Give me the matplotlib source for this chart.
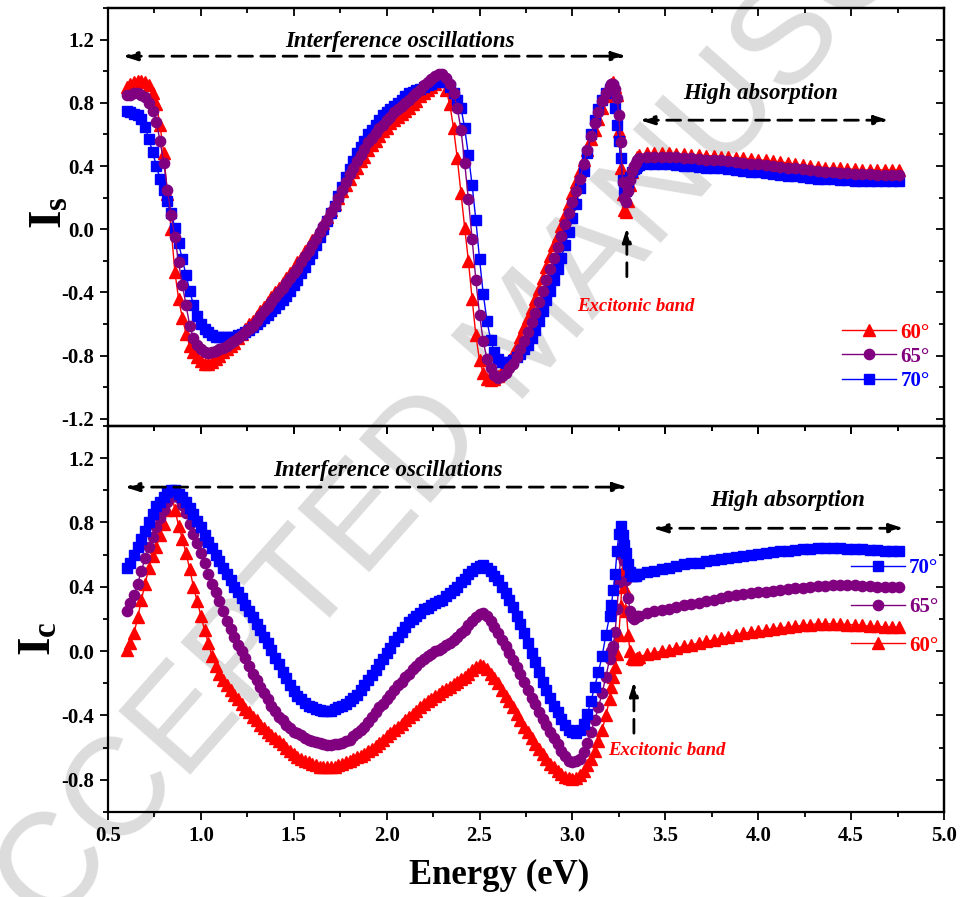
import numpy as np
import matplotlib
matplotlib.use('Agg')
import matplotlib.pyplot as plt
from matplotlib.ticker import MultipleLocator, FormatStrFormatter

# Fonts: bold Times-like everywhere
plt.rcParams['font.family'] = 'Liberation Serif'
plt.rcParams['font.weight'] = 'bold'
plt.rcParams['axes.labelweight'] = 'bold'
plt.rcParams['mathtext.fontset'] = 'custom'
plt.rcParams['mathtext.rm'] = 'Liberation Serif:bold'
plt.rcParams['mathtext.bf'] = 'Liberation Serif:bold'
plt.rcParams['mathtext.it'] = 'Liberation Serif:bold:italic'

# Energy grid (eV): 0.02 steps, finer around the excitonic band, coarser in the flat tail
energy = np.concatenate([np.linspace(0.60, 3.18, 130),
                         np.linspace(3.20, 3.35, 16),
                         np.linspace(3.36, 4.76, 36)])

angles = ['60°', '65°', '70°']

# ---- Is (top panel) ----
is_60 = [0.90, 0.92, 0.93, 0.94, 0.94, 0.93, 0.91, 0.86, 0.79, 0.66,
         0.48, 0.22, 0.00, -0.27, -0.44, -0.56, -0.66, -0.74, -0.78, -0.81,
         -0.835, -0.85, -0.85, -0.84, -0.82, -0.80, -0.78, -0.76, -0.74, -0.72,
         -0.69, -0.66, -0.63, -0.60, -0.58, -0.55, -0.52, -0.49, -0.46, -0.43,
         -0.40, -0.37, -0.34, -0.31, -0.28, -0.25, -0.21, -0.18, -0.14, -0.11,
         -0.07, -0.04, 0.00, 0.04, 0.08, 0.12, 0.16, 0.20, 0.24, 0.28,
         0.32, 0.36, 0.39, 0.43, 0.46, 0.50, 0.53, 0.56, 0.59, 0.62,
         0.64, 0.67, 0.69, 0.71, 0.73, 0.75, 0.77, 0.79, 0.81, 0.84,
         0.86, 0.88, 0.90, 0.92, 0.94, 0.94, 0.88, 0.79, 0.64, 0.45,
         0.23, 0.01, -0.20, -0.44, -0.67, -0.83, -0.91, -0.945, -0.955, -0.945,
         -0.93, -0.90, -0.86, -0.83, -0.79, -0.74, -0.68, -0.62, -0.56, -0.50,
         -0.44, -0.38, -0.31, -0.24, -0.17, -0.10, -0.04, 0.02, 0.09, 0.16,
         0.23, 0.30, 0.37, 0.44, 0.50, 0.57, 0.63, 0.70, 0.77, 0.84,
         0.89, 0.92, 0.93, 0.90, 0.85, 0.62, 0.39, 0.22, 0.12, 0.11, 0.18, 0.28, 0.36, 0.41, 0.44, 0.46,
         0.47, 0.48, 0.48, 0.48, 0.48, 0.475, 0.475, 0.47, 0.47,
         0.465, 0.465, 0.46, 0.455, 0.45, 0.45, 0.445, 0.44, 0.435,
         0.43, 0.425, 0.42, 0.41, 0.405, 0.40, 0.395, 0.39, 0.385,
         0.385, 0.38, 0.38, 0.375, 0.375, 0.375, 0.375, 0.375, 0.375]

is_65 = [0.85, 0.85, 0.86, 0.86, 0.85, 0.835, 0.80, 0.75, 0.68, 0.56,
         0.42, 0.25, 0.09, -0.05, -0.21, -0.35, -0.48, -0.61, -0.69, -0.73,
         -0.76, -0.78, -0.785, -0.78, -0.77, -0.76, -0.75, -0.74, -0.72, -0.71,
         -0.69, -0.67, -0.65, -0.63, -0.61, -0.58, -0.55, -0.52, -0.49, -0.46,
         -0.43, -0.40, -0.37, -0.34, -0.31, -0.28, -0.25, -0.21, -0.17, -0.14,
         -0.10, -0.06, -0.02, 0.02, 0.06, 0.11, 0.15, 0.20, 0.25, 0.30,
         0.35, 0.39, 0.43, 0.47, 0.51, 0.55, 0.58, 0.61, 0.64, 0.66,
         0.69, 0.71, 0.74, 0.76, 0.78, 0.80, 0.82, 0.84, 0.86, 0.88,
         0.91, 0.93, 0.95, 0.97, 0.98, 0.98, 0.96, 0.92, 0.86, 0.77,
         0.63, 0.42, 0.19, -0.06, -0.32, -0.54, -0.71, -0.82, -0.88, -0.92,
         -0.94, -0.93, -0.91, -0.88, -0.85, -0.81, -0.76, -0.71, -0.65, -0.59,
         -0.53, -0.46, -0.39, -0.32, -0.25, -0.18, -0.11, -0.04, 0.03, 0.10,
         0.17, 0.24, 0.32, 0.41, 0.50, 0.59, 0.67, 0.74, 0.81, 0.86,
         0.90, 0.92, 0.92, 0.89, 0.83, 0.72, 0.55, 0.30, 0.20, 0.17, 0.24, 0.31, 0.37, 0.40, 0.42, 0.44,
         0.45, 0.46, 0.46, 0.46, 0.455, 0.455, 0.45, 0.45, 0.445,
         0.44, 0.44, 0.435, 0.43, 0.425, 0.42, 0.415, 0.41, 0.405,
         0.40, 0.395, 0.39, 0.385, 0.38, 0.375, 0.37, 0.365, 0.36,
         0.355, 0.355, 0.35, 0.35, 0.35, 0.345, 0.345, 0.345, 0.345]

is_70 = [0.75, 0.74, 0.73, 0.72, 0.70, 0.65, 0.57, 0.49, 0.40, 0.32,
         0.25, 0.18, 0.10, 0.01, -0.09, -0.19, -0.29, -0.39, -0.48, -0.55,
         -0.60, -0.63, -0.65, -0.67, -0.68, -0.68, -0.68, -0.68, -0.68, -0.68,
         -0.67, -0.66, -0.65, -0.64, -0.62, -0.60, -0.58, -0.56, -0.54, -0.52,
         -0.50, -0.47, -0.45, -0.42, -0.39, -0.35, -0.32, -0.28, -0.24, -0.19,
         -0.15, -0.10, -0.05, 0.00, 0.05, 0.10, 0.15, 0.21, 0.27, 0.33,
         0.38, 0.43, 0.48, 0.52, 0.56, 0.60, 0.63, 0.66, 0.69, 0.72,
         0.74, 0.76, 0.78, 0.80, 0.82, 0.84, 0.86, 0.87, 0.88, 0.89,
         0.90, 0.91, 0.92, 0.93, 0.94, 0.95, 0.93, 0.90, 0.86, 0.82,
         0.77, 0.64, 0.47, 0.28, 0.06, -0.19, -0.41, -0.58, -0.70, -0.78,
         -0.82, -0.84, -0.845, -0.84, -0.83, -0.81, -0.79, -0.76, -0.73, -0.69,
         -0.64, -0.58, -0.52, -0.45, -0.39, -0.32, -0.25, -0.18, -0.10, -0.02,
         0.07, 0.16, 0.26, 0.37, 0.48, 0.60, 0.69, 0.76, 0.82, 0.86,
         0.89, 0.90, 0.90, 0.77, 0.66, 0.56, 0.45, 0.31, 0.25, 0.24, 0.28, 0.33, 0.36, 0.38, 0.39, 0.40,
         0.405, 0.415, 0.415, 0.41, 0.41, 0.405, 0.40, 0.40, 0.395,
         0.39, 0.39, 0.385, 0.38, 0.375, 0.37, 0.365, 0.36, 0.355,
         0.35, 0.345, 0.34, 0.335, 0.33, 0.325, 0.32, 0.315, 0.315,
         0.31, 0.31, 0.305, 0.305, 0.305, 0.305, 0.305, 0.305, 0.305]

# ---- Ic (bottom panel) ----
ic_60 = [0.01, 0.05, 0.11, 0.21, 0.32, 0.42, 0.52, 0.59, 0.65, 0.72,
         0.79, 0.88, 0.99, 0.88, 0.78, 0.70, 0.61, 0.51, 0.40, 0.31,
         0.22, 0.13, 0.05, -0.03, -0.09, -0.14, -0.18, -0.21, -0.24, -0.27,
         -0.30, -0.33, -0.36, -0.38, -0.41, -0.43, -0.46, -0.48, -0.50, -0.52,
         -0.54, -0.56, -0.58, -0.60, -0.62, -0.64, -0.66, -0.67, -0.68, -0.69,
         -0.70, -0.71, -0.72, -0.72, -0.72, -0.72, -0.72, -0.71, -0.70, -0.69,
         -0.68, -0.67, -0.66, -0.65, -0.64, -0.62, -0.61, -0.59, -0.57, -0.55,
         -0.53, -0.51, -0.49, -0.47, -0.45, -0.43, -0.41, -0.39, -0.37, -0.35,
         -0.33, -0.31, -0.30, -0.28, -0.265, -0.25, -0.235, -0.22, -0.205, -0.19,
         -0.175, -0.16, -0.14, -0.12, -0.10, -0.085, -0.09, -0.11, -0.14, -0.17,
         -0.20, -0.24, -0.28, -0.31, -0.35, -0.39, -0.43, -0.47, -0.50, -0.54,
         -0.58, -0.61, -0.64, -0.67, -0.70, -0.72, -0.745, -0.765, -0.78, -0.79,
         -0.795, -0.79, -0.77, -0.745, -0.71, -0.67, -0.62, -0.56, -0.49, -0.40,
         -0.30, -0.22, -0.16, -0.10, -0.02, 0.10, 0.28, 0.50, 0.40, 0.25, 0.10, 0.00, -0.04, -0.05, -0.05, -0.04,
         -0.035, -0.02, -0.01, 0.00, 0.01, 0.02, 0.03, 0.04, 0.05,
         0.06, 0.07, 0.08, 0.09, 0.10, 0.11, 0.12, 0.125, 0.13,
         0.14, 0.145, 0.15, 0.155, 0.16, 0.165, 0.17, 0.17, 0.17,
         0.17, 0.165, 0.165, 0.16, 0.155, 0.155, 0.15, 0.15, 0.15]

ic_65 = [0.25, 0.30, 0.35, 0.42, 0.50, 0.58, 0.65, 0.71, 0.77, 0.83,
         0.88, 0.93, 0.96, 0.97, 0.95, 0.91, 0.86, 0.79, 0.73, 0.67,
         0.61, 0.55, 0.48, 0.42, 0.37, 0.31, 0.25, 0.19, 0.14, 0.09,
         0.04, 0.00, -0.04, -0.09, -0.14, -0.18, -0.22, -0.26, -0.30, -0.34,
         -0.37, -0.41, -0.43, -0.46, -0.48, -0.50, -0.51, -0.52, -0.54, -0.55,
         -0.56, -0.565, -0.57, -0.58, -0.585, -0.585, -0.58, -0.575, -0.57, -0.56,
         -0.55, -0.53, -0.51, -0.49, -0.47, -0.44, -0.41, -0.38, -0.35, -0.33,
         -0.30, -0.27, -0.24, -0.21, -0.19, -0.16, -0.14, -0.11, -0.09, -0.07,
         -0.05, -0.03, -0.02, 0.00, 0.01, 0.02, 0.04, 0.05, 0.07, 0.09,
         0.11, 0.13, 0.16, 0.19, 0.21, 0.23, 0.235, 0.22, 0.19, 0.15,
         0.11, 0.07, 0.03, -0.01, -0.055, -0.10, -0.14, -0.19, -0.24, -0.29,
         -0.33, -0.38, -0.42, -0.46, -0.50, -0.54, -0.58, -0.62, -0.65, -0.68,
         -0.69, -0.685, -0.67, -0.63, -0.57, -0.50, -0.43, -0.35, -0.26, -0.16,
         -0.05, 0.00, 0.03, 0.12, 0.26, 0.43, 0.60, 0.66, 0.56, 0.44, 0.33, 0.25, 0.21, 0.20, 0.21, 0.22,
         0.22, 0.24, 0.25, 0.255, 0.265, 0.275, 0.285, 0.295, 0.30,
         0.31, 0.32, 0.33, 0.34, 0.35, 0.355, 0.36, 0.365, 0.37,
         0.375, 0.38, 0.385, 0.39, 0.395, 0.40, 0.405, 0.405, 0.41,
         0.41, 0.41, 0.41, 0.405, 0.405, 0.40, 0.40, 0.40, 0.40]

ic_70 = [0.52, 0.55, 0.60, 0.65, 0.70, 0.75, 0.80, 0.85, 0.90, 0.93,
         0.96, 0.99, 1.00, 1.00, 0.98, 0.96, 0.93, 0.89, 0.85, 0.81,
         0.77, 0.72, 0.68, 0.64, 0.60, 0.56, 0.52, 0.48, 0.44, 0.40,
         0.37, 0.33, 0.29, 0.25, 0.21, 0.17, 0.13, 0.09, 0.05, 0.01,
         -0.04, -0.08, -0.13, -0.17, -0.21, -0.25, -0.28, -0.30, -0.32, -0.34,
         -0.35, -0.36, -0.365, -0.37, -0.37, -0.37, -0.36, -0.35, -0.34, -0.33,
         -0.31, -0.29, -0.27, -0.24, -0.21, -0.18, -0.15, -0.12, -0.08, -0.05,
         -0.01, 0.02, 0.06, 0.09, 0.12, 0.15, 0.18, 0.20, 0.22, 0.24,
         0.26, 0.27, 0.29, 0.30, 0.31, 0.32, 0.34, 0.36, 0.38, 0.40,
         0.43, 0.45, 0.48, 0.50, 0.52, 0.53, 0.535, 0.52, 0.50, 0.47,
         0.44, 0.40, 0.36, 0.32, 0.275, 0.22, 0.17, 0.11, 0.05, -0.01,
         -0.07, -0.13, -0.19, -0.24, -0.29, -0.34, -0.38, -0.42, -0.46, -0.49,
         -0.505, -0.51, -0.49, -0.45, -0.39, -0.31, -0.22, -0.13, -0.03, 0.10,
         0.22, 0.29, 0.38, 0.48, 0.62, 0.73, 0.78, 0.72, 0.66, 0.61, 0.54, 0.49, 0.47, 0.47, 0.47, 0.48,
         0.48, 0.49, 0.50, 0.51, 0.52, 0.53, 0.54, 0.545, 0.55,
         0.56, 0.565, 0.57, 0.58, 0.585, 0.59, 0.60, 0.605, 0.61,
         0.615, 0.62, 0.625, 0.63, 0.635, 0.638, 0.64, 0.64, 0.64,
         0.64, 0.638, 0.635, 0.632, 0.63, 0.628, 0.625, 0.623, 0.62]

colors = ['#ff0000', '#800080', '#0000ff']
markers = ['^', 'o', 's']
msizes = [8.0, 7.4, 6.6]

fig = plt.figure(figsize=(9.6, 8.97), dpi=100)
ax1 = fig.add_axes([0.1125, 0.5251, 0.8708, 0.466])
ax2 = fig.add_axes([0.1125, 0.0948, 0.8708, 0.4303])
for ax in (ax1, ax2):
    ax.set_facecolor('none')

# watermark behind everything
fig.text(0.552, 0.624, 'ACCEPTED MANUSCRIPT', rotation=48.5, fontsize=100,
         family='Liberation Sans', weight='normal', color='#dcdcdc',
         ha='center', va='center', rotation_mode='anchor', zorder=-5)


def draw_series(ax, ys, order):
    lines = {}
    for i in order:
        ln, = ax.plot(energy, ys[i], color=colors[i], marker=markers[i],
                      ms=msizes[i], mec=colors[i], mfc=colors[i], lw=1.0)
        lines[i] = ln
    return [lines[i] for i in range(3)]


top_lines = draw_series(ax1, [is_60, is_65, is_70], [0, 2, 1])
bot_lines = draw_series(ax2, [ic_60, ic_65, ic_70], [0, 1, 2])


def style(ax, ylim, ymin_tick, ymax_tick, show_x):
    ax.set_xlim(0.5, 5.0)
    ax.set_ylim(*ylim)
    ax.set_yticks(np.arange(ymin_tick, ymax_tick + 0.01, 0.4))
    ax.yaxis.set_minor_locator(MultipleLocator(0.2))
    ax.xaxis.set_major_locator(MultipleLocator(0.5))
    ax.xaxis.set_minor_locator(MultipleLocator(0.25))
    ax.yaxis.set_major_formatter(FormatStrFormatter('%.1f'))
    ax.xaxis.set_major_formatter(FormatStrFormatter('%.1f'))
    ax.tick_params(which='both', direction='out', width=1.3, labelsize=15,
                   top=False, right=False, labelbottom=show_x)
    ax.tick_params(which='major', length=6, pad=4)
    ax.tick_params(which='minor', length=3.5)
    for sp in ax.spines.values():
        sp.set_linewidth(1.6)
    # inward ticks on top and right
    sx = ax.secondary_xaxis('top')
    sx.xaxis.set_major_locator(MultipleLocator(0.5))
    sx.xaxis.set_minor_locator(MultipleLocator(0.25))
    sx.tick_params(which='both', direction='in', width=1.3, labeltop=False)
    sx.tick_params(which='major', length=6)
    sx.tick_params(which='minor', length=3.5)
    sy = ax.secondary_yaxis('right')
    sy.yaxis.set_major_locator(MultipleLocator(0.4))
    sy.yaxis.set_minor_locator(MultipleLocator(0.2))
    sy.tick_params(which='both', direction='in', width=1.3, labelright=False)
    sy.tick_params(which='major', length=6)
    sy.tick_params(which='minor', length=3.5)
    for s in (sx, sy):
        for sp in s.spines.values():
            sp.set_linewidth(1.6)


style(ax1, (-1.245, 1.4), -1.2, 1.2, False)
style(ax2, (-1.0, 1.4), -0.8, 1.2, True)

ax1.set_ylabel(r'$\mathrm{I_s}$', fontsize=34)
ax1.yaxis.set_label_coords(-0.043, 0.51)
ax2.set_ylabel(r'$\mathrm{I_c}$', fontsize=34)
ax2.yaxis.set_label_coords(-0.057, 0.45)
ax2.set_xlabel('Energy (eV)', fontsize=25, weight='bold')
ax2.xaxis.set_label_coords(0.468, -0.122)


def hline_arrow(ax, x0, x1, y):
    ax.annotate('', xy=(x1, y), xytext=(x0, y),
                arrowprops=dict(arrowstyle='<|-|>,head_length=0.7,head_width=0.22',
                                linestyle=(0, (5, 3)), lw=2, color='black',
                                shrinkA=0, shrinkB=0, mutation_scale=12))


def vline_arrow(ax, x, y0, y1):
    ax.annotate('', xy=(x, y1), xytext=(x, y0),
                arrowprops=dict(arrowstyle='-|>,head_length=0.7,head_width=0.22',
                                linestyle=(0, (5, 3)), lw=2, color='black',
                                shrinkA=0, shrinkB=0, mutation_scale=12))


txt = dict(style='italic', weight='bold', ha='center', va='center')

# top panel notes
hline_arrow(ax1, 0.58, 3.29, 1.095)
ax1.text(2.07, 1.19, 'Interference oscillations', fontsize=16.5, **txt)
hline_arrow(ax1, 3.363, 4.703, 0.69)
ax1.text(4.015, 0.86, 'High absorption', fontsize=16.5, **txt)
vline_arrow(ax1, 3.293, -0.30, 0.01)
ax1.text(3.34, -0.49, 'Excitonic band', fontsize=13.5, color='#ff0000', **txt)

# bottom panel notes
hline_arrow(ax2, 0.59, 3.297, 1.02)
ax2.text(2.007, 1.124, 'Interference oscillations', fontsize=16.5, **txt)
hline_arrow(ax2, 3.433, 4.784, 0.764)
ax2.text(4.157, 0.938, 'High absorption', fontsize=16.5, **txt)
vline_arrow(ax2, 3.331, -0.51, -0.19)
ax2.text(3.51, -0.62, 'Excitonic band', fontsize=13.5, color='#ff0000', **txt)

# legends
leg1 = ax1.legend(top_lines, angles, loc='lower right', bbox_to_anchor=(0.983, 0.084),
                  frameon=False, fontsize=15, handlelength=2.6, handletextpad=0.2,
                  labelspacing=0.2, borderpad=0, borderaxespad=0)
for t, c in zip(leg1.get_texts(), colors):
    t.set_color(c)

leg2 = ax2.legend(bot_lines[::-1], angles[::-1], loc='lower right', bbox_to_anchor=(0.993, 0.405),
                  frameon=False, fontsize=15, handlelength=2.6, handletextpad=0.2,
                  labelspacing=0.9, borderpad=0, borderaxespad=0)
for t, c in zip(leg2.get_texts(), colors[::-1]):
    t.set_color(c)

fig.savefig('out.png', dpi=100)
